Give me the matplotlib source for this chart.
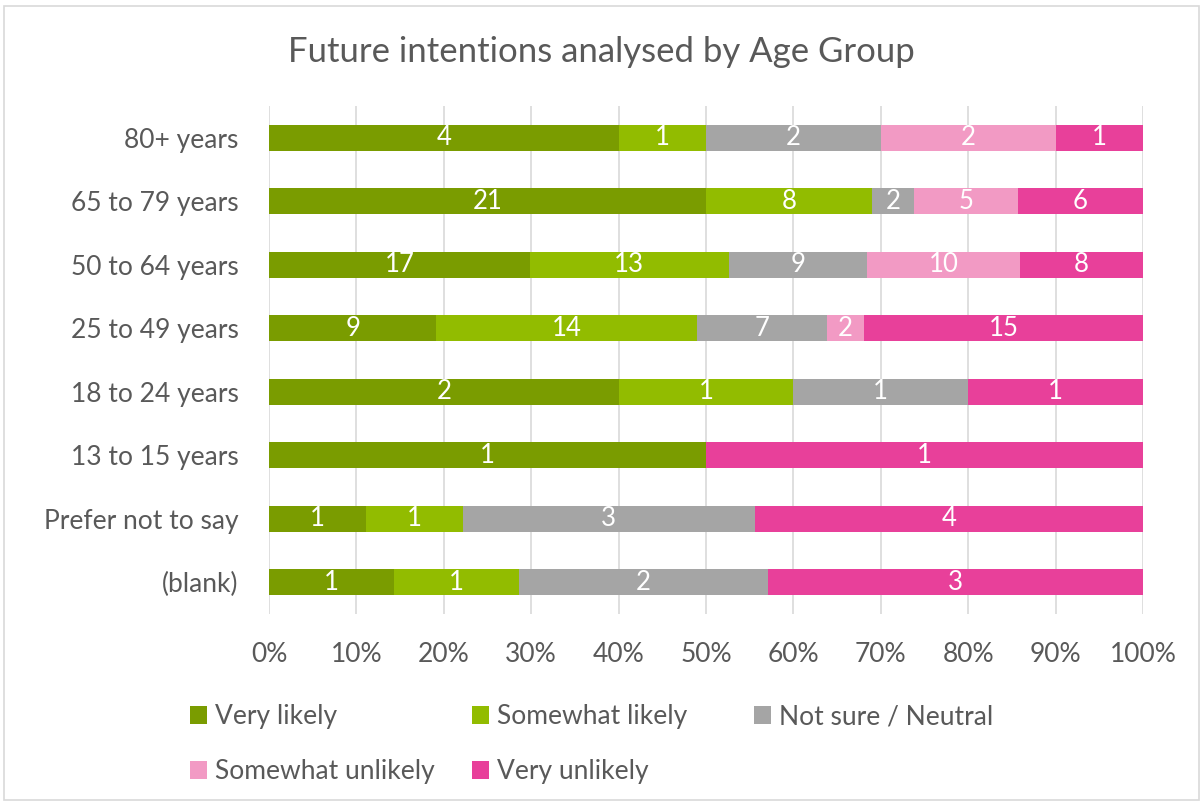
import matplotlib.pyplot as plt
from matplotlib.patches import Rectangle
import numpy as np

plt.rcParams['font.family'] = ['Lato', 'DejaVu Sans']

# data, top to bottom as shown
groups = ["80+ years", "65 to 79 years", "50 to 64 years", "25 to 49 years",
          "18 to 24 years", "13 to 15 years", "Prefer not to say", "(blank)"]
series = ["Very likely", "Somewhat likely", "Not sure / Neutral",
          "Somewhat unlikely", "Very unlikely"]
very_likely = [4, 21, 17, 9, 2, 1, 1, 1]
somewhat_likely = [1, 8, 13, 14, 1, 0, 1, 1]
not_sure = [2, 2, 9, 7, 1, 0, 3, 2]
somewhat_unlikely = [2, 5, 10, 2, 0, 0, 0, 0]
very_unlikely = [1, 6, 8, 15, 1, 1, 4, 3]
colors = ["#7A9C00", "#92BC00", "#A5A5A5", "#F29AC4", "#E8409A"]

counts = np.array([very_likely, somewhat_likely, not_sure,
                   somewhat_unlikely, very_unlikely], dtype=float)
totals = counts.sum(axis=0)
shares = counts / totals

fig = plt.figure(figsize=(12.03, 8.02), dpi=100)
ax = fig.add_axes([0.2236, 0.2344, 0.7265, 0.6334])

y = np.arange(len(groups))
left = np.zeros(len(groups))
handles = []
for i, name in enumerate(series):
    b = ax.barh(y, shares[i], left=left, height=0.41, color=colors[i], label=name)
    handles.append(b)
    for j in range(len(groups)):
        if counts[i, j] > 0:
            ax.text(left[j] + shares[i, j] / 2, y[j], f"{int(counts[i, j])}",
                    ha="center", va="center", color="white", fontsize=18.5)
    left += shares[i]

ax.set_ylim(len(groups) - 0.5, -0.5)
ax.set_xlim(0, 1)
ax.set_yticks(y)
ax.set_yticklabels(groups)
ax.set_xticks(np.linspace(0, 1, 11))
ax.set_xticklabels([f"{int(v)}%" for v in np.linspace(0, 100, 11)])
ax.tick_params(length=0, labelsize=19, labelcolor="#595959")
ax.tick_params(axis="x", pad=20)
ax.tick_params(axis="y", pad=22)
ax.grid(axis="x", color="#D9D9D9", linewidth=1.2)
ax.set_axisbelow(True)
for s in ax.spines.values():
    s.set_visible(False)

fig.suptitle("Future intentions analysed by Age Group", y=0.955,
             fontsize=25, color="#595959")

# legend entries laid out on a fixed grid, like the original
spots = [(0.158, 0.106), (0.392, 0.106), (0.627, 0.106),
         (0.158, 0.038), (0.392, 0.038)]
for k, name in enumerate(series):
    lg = fig.legend([handles[k]], [name], loc="center left", bbox_to_anchor=spots[k],
                    frameon=False, fontsize=19, handlelength=0.65, handleheight=0.65,
                    handletextpad=0.3, borderpad=0, borderaxespad=0)
    for t in lg.get_texts():
        t.set_color("#595959")

fig.patches.append(Rectangle((0.003, 0.002), 0.994, 0.99, transform=fig.transFigure,
                             fill=False, edgecolor="#D9D9D9", linewidth=1.2))

fig.savefig("out.png", dpi=100)
